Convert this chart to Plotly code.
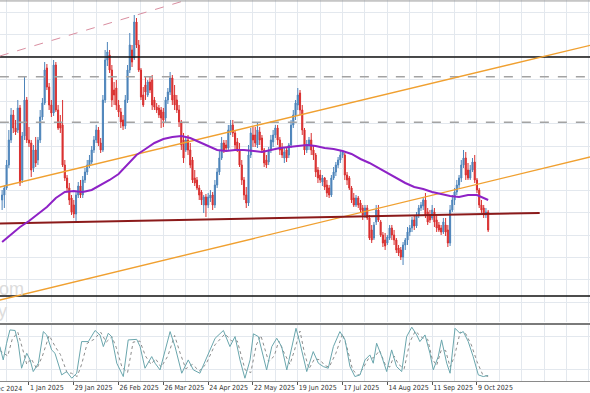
import plotly.graph_objects as go

# ---------------- data (bar index 0..217 = daily bars, mid Dec 2024 .. mid Oct 2025) ----------------
bar_index = list(range(218))

open_ = [130,135,142,165,190,215,202,200,222,150,
         194,230,190,187,162,180,170,190,213,227,
         262,243,225,217,265,220,208,205,165,152,
         142,132,125,116,135,144,135,150,158,165,
         168,180,190,200,187,180,230,270,275,260,
         240,242,225,218,210,204,230,260,280,272,
         308,285,260,235,245,235,248,250,230,223,
         222,220,218,212,230,238,252,235,230,220,
         208,190,180,190,180,170,152,150,142,138,
         125,133,125,132,135,125,145,158,172,187,
         185,182,198,205,197,188,180,165,150,135,
         127,175,195,195,185,198,192,180,170,168,
         180,188,195,202,190,182,172,180,175,185,
         205,215,225,237,220,200,180,185,190,180,
         175,160,155,148,152,145,142,135,152,158,
         165,170,175,175,155,152,142,132,125,132,
         127,122,115,122,112,100,92,108,120,108,
         95,90,87,92,102,95,90,82,80,73,
         85,90,98,102,110,104,115,122,124,130,
         118,115,112,118,110,105,102,98,105,100,
         87,120,130,138,145,152,165,172,160,152,
         160,168,150,140,125,122,115,118]

high = [140,145,170,200,222,220,210,230,225,198,
        253,233,203,190,185,193,193,220,232,268,
        266,247,230,270,268,225,215,230,170,155,
        147,135,130,138,148,150,154,162,170,175,
        184,194,205,203,192,235,280,288,280,265,
        248,250,230,222,215,235,265,297,285,315,
        312,290,262,243,253,250,253,255,233,227,
        225,223,222,233,242,258,255,245,235,225,
        210,197,193,195,187,173,160,153,145,140,
        135,136,137,140,138,150,162,180,193,190,
        190,205,210,210,200,192,187,170,153,143,
        185,202,203,203,207,203,195,182,175,183,
        195,200,205,205,193,187,183,183,187,210,
        220,230,242,240,225,202,190,193,197,185,
        177,163,160,155,153,150,145,155,163,168,
        173,180,180,177,158,154,144,137,135,134,
        130,125,125,125,115,105,108,125,125,110,
        98,97,95,105,105,100,92,85,83,88,
        92,103,105,113,115,118,125,128,132,137,
        122,120,125,122,115,108,105,112,112,105,
        125,135,142,150,155,170,180,178,167,165,
        172,175,152,142,130,125,122,120]

low = [120,122,140,162,187,197,195,197,144,147,
       190,187,183,153,158,163,165,187,210,225,
       240,220,213,214,218,200,197,163,149,139,
       125,115,112,108,132,132,132,147,155,162,
       166,177,187,184,177,178,227,264,257,223,
       225,220,213,202,200,201,227,257,263,270,
       282,258,230,223,230,233,237,220,220,217,
       212,202,203,208,226,235,225,220,217,203,
       180,167,178,175,162,147,144,140,130,125,
       117,113,122,128,120,122,142,155,170,177,
       180,180,195,193,180,178,163,145,130,122,
       124,172,183,183,182,185,177,163,162,165,
       177,183,192,185,175,172,167,168,172,182,
       202,210,220,215,195,175,177,180,175,170,
       153,147,147,144,140,133,132,133,150,154,
       162,167,172,150,145,140,127,123,123,122,
       117,110,112,110,90,87,90,105,108,93,
       83,80,85,90,90,85,77,74,70,65,
       80,85,94,98,100,102,112,119,120,112,
       105,107,110,103,98,98,95,96,94,83,
       84,118,125,135,142,148,162,150,150,150,
       158,147,137,122,117,112,112,98]

close = [135,142,165,190,215,202,198,222,147,194,
         230,190,187,160,180,167,190,213,227,260,
         243,225,217,265,220,202,202,165,152,142,
         130,118,116,135,144,135,150,158,165,170,
         180,190,200,187,180,230,270,278,260,230,
         235,225,218,208,204,230,260,285,268,308,
         285,260,233,225,238,248,240,225,223,220,
         215,212,210,230,238,252,230,225,220,208,
         185,172,190,180,165,150,147,142,135,130,
         133,125,133,135,125,145,158,172,187,180,
         182,200,205,197,185,180,165,150,135,127,
         175,197,190,187,200,190,180,167,165,180,
         190,195,202,190,180,175,178,172,185,205,
         215,227,235,220,200,180,185,190,180,175,
         158,152,150,152,143,137,135,152,158,165,
         170,175,178,155,150,142,130,125,132,125,
         120,115,122,112,92,90,105,120,110,95,
         87,84,93,102,95,90,80,77,73,85,
         90,98,102,110,104,115,122,125,130,115,
         108,110,120,108,102,100,98,108,98,87,
         120,130,138,145,152,165,172,155,152,160,
         168,150,140,125,120,115,118,100]

# moving average (read at sampled bars)
ma_x = [0,4,8,12,16,20,24,28,32,36,40,44,48,52,56,60,64,68,72,76,80,84,88,92,96,100,
        104,108,112,116,120,124,128,132,136,140,144,148,152,156,160,164,168,172,176,180,
        184,188,192,196,200,204,208,212,215,217]
ma_y = [88,96,103,109,116,123,132,138,139,138,140,145,150,156,165,175,181,187,191,193,194,192,188,184,180,179,
        180,180,179,178,180,182,183,184,185,184,182,181,179,176,171,167,162,157,152,147,
        143,141,138,136,134,133,135,135,132,130]

# horizontal levels
level_black = [273, 34]
level_dashed = [253.3, 207.7]

# trend lines: (bar index endpoints, price endpoints)
channel_upper_x, channel_upper_y = [-1, 263], [143.0, 284.9]
channel_lower_x, channel_lower_y = [-1, 263], [30.0, 173.3]
support_x, support_y = [-1, 240], [106.5, 117.0]
pink_x, pink_y = [-1, 100], [274.0, 341.8]

# stochastic oscillator
k_x = [-1,0.5,2,3.5,5.8,7.2,8.7,11,12.5,13.9,16.2,18.4,19.9,22.1,23.6,26.6,28.8,31.1,33.3,35.5,
       38.5,41.5,43.7,45.2,47.4,48.9,51.2,54.1,56.3,60.1,61.6,63.8,66.8,68.3,70.5,72.7,75,77.2,80.2,
       83.1,85.4,88.3,92.1,95.1,98.8,101.7,104,106.2,108.4,110.7,112.2,114.4,118.1,120.4,122.6,124.8,
       127.1,129.3,131.2,133,136,138.9,141.2,143.4,145.6,147.9,150.8,153.1,155.3,157.5,159.8,162,
       164.2,165.7,167.2,169.5,171.7,173.9,176.1,178.4,180.6,182.9,185.1,186.5,188.8,191,192.5,
       194.7,196.2,198.5,200,202.2,204.4,205.9,208.1,210.3,212.6,214.8,217]
k_v = [62,38,68,92,91,68,23,50,38,17,32,89,83,56,50,11,17,5,14,71,
       71,91,83,62,86,80,32,8,74,75,62,23,44,32,20,56,89,62,14,
       38,20,14,50,77,91,62,80,38,5,38,85,80,20,62,77,62,
       20,62,95,68,17,53,32,26,23,62,89,74,26,8,11,38,
       47,32,68,44,17,56,26,17,80,97,83,71,83,50,20,
       44,74,32,14,95,86,89,71,44,11,8,10]
d_x = [-1,2.5,4.5,7,9,11,13,15.5,18,21,24,26,29,31,33.5,35.5,38,41,44,46.5,49,51,53.5,56,58.5,
       61.5,64,66.5,68.5,71,74,77,79.5,82,85,88,91,95,99.5,102.5,105,108.5,111,113.5,115.5,
       119,121.5,123.5,126,128.5,130.5,133,135,137,139.5,142,144,146,149,152,154,156.5,159,161,
       163.5,166,168.5,171,173,175,177,179.5,182,184.5,187.5,190,192,194,196,198,200,202,204.5,
       207,209.5,212,214.5,217]
d_v = [55,45,75,88,60,30,40,22,45,82,60,48,15,14,8,30,68,75,88,70,80,60,25,15,70,
       72,45,30,40,25,45,82,50,22,30,18,30,65,85,72,72,20,15,65,82,
       35,45,72,50,30,55,90,50,22,40,38,28,25,50,85,60,20,10,22,
       40,42,55,30,25,45,30,22,70,90,78,75,40,28,55,55,25,45,88,
       85,65,35,12,8]

# axis labels
label_pos = [12,32,52,72,92,112,132,152,172,192,212]
label_text = ["1 Jan 2025","29 Jan 2025","26 Feb 2025","26 Mar 2025","24 Apr 2025","22 May 2025",
              "19 Jun 2025","17 Jul 2025","14 Aug 2025","11 Sep 2025","9 Oct 2025"]
prev_label = "4 Dec 2024"
grid_pos = list(range(-8, 263, 10))

# ---------------- figure ----------------
GRID = "#e3e8ee"
XR = [-0.94, 262.46]
FONT = "Liberation Sans Narrow, DejaVu Sans Condensed, Liberation Sans, Arial"

fig = go.Figure()

def line(x, y, color, width, dash="solid", xa="x", ya="y"):
    fig.add_trace(go.Scatter(x=x, y=y, mode="lines", line=dict(color=color, width=width, dash=dash),
                             xaxis=xa, yaxis=ya, hoverinfo="skip", showlegend=False))

for lv in level_dashed:
    line([-1, 263], [lv, lv], "#a3a3a3", 1.5, "dash")
for lv in level_black:
    line([-1, 263], [lv, lv], "#111111", 1.4)

line(pink_x, pink_y, "#d98ea0", 1, "dash")

fig.add_trace(go.Candlestick(
    x=bar_index, open=open_, high=high, low=low, close=close,
    increasing=dict(line=dict(color="#4d84ba", width=1), fillcolor="#4d84ba"),
    decreasing=dict(line=dict(color="#d92f2f", width=1), fillcolor="#d92f2f"),
    whiskerwidth=0, xaxis="x", yaxis="y", showlegend=False, hoverinfo="skip"))

line(channel_upper_x, channel_upper_y, "#f0a030", 1.4)
line(channel_lower_x, channel_lower_y, "#f0a030", 1.4)
line(support_x, support_y, "#8b1a1a", 2)
line(ma_x, ma_y, "#8e22c6", 2)

# stochastic
line(d_x, d_v, "#8c8c8c", 1, "dot", "x2", "y2")
line(k_x, k_v, "#6aa6ad", 1, "solid", "x2", "y2")

fig.update_layout(
    width=590, height=393,
    margin=dict(l=0, r=0, t=0, b=12, autoexpand=False),
    paper_bgcolor="white", plot_bgcolor="white",
    showlegend=False,
    font=dict(family=FONT, size=7, color="#333333"),
    xaxis=dict(domain=[0, 1], anchor="y", range=XR, showticklabels=False, automargin=False,
               tickvals=grid_pos, ticks="", showgrid=True, gridcolor=GRID, gridwidth=1,
               zeroline=False, showline=False, rangeslider=dict(visible=False)),
    yaxis=dict(domain=[0.1549, 1], range=[8, 330], tickmode="linear", tick0=27.8, dtick=22.3,
               showticklabels=False, showgrid=True, gridcolor=GRID, zeroline=False, automargin=False),
    xaxis2=dict(domain=[0, 1], anchor="y2", range=XR, automargin=False,
                tickvals=label_pos, ticktext=label_text, ticklabelposition="outside right",
                tickangle=0, ticks="outside", ticklen=3, tickcolor="#555555",
                tickfont=dict(family=FONT, size=7, color="#333333"),
                showgrid=True, gridcolor=GRID,
                minor=dict(tickvals=grid_pos, showgrid=True, gridcolor=GRID, ticks=""),
                showline=True, linecolor="#8a8a8a", linewidth=1, zeroline=False),
    yaxis2=dict(domain=[0, 0.1457], range=[0, 100], tickvals=[20, 80], showticklabels=False,
                showgrid=True, gridcolor=GRID, zeroline=False, automargin=False),
)

# frame lines: top border and panel separator
fig.add_shape(type="line", xref="paper", yref="paper", x0=0, x1=1, y0=0.9975, y1=0.9975,
              line=dict(color="#9a9a9a", width=1))
fig.add_shape(type="line", xref="paper", yref="paper", x0=0, x1=1, y0=0.1496, y1=0.1496,
              line=dict(color="#7a7a7a", width=2))

# date label of the previous period (partly outside)
fig.add_annotation(text=prev_label, xref="paper", yref="paper", x=-16/590, y=-0.021,
                   xanchor="left", yanchor="middle", showarrow=False,
                   font=dict(family=FONT, size=7, color="#333333"))

# faint watermark remnants
fig.add_annotation(text="om", xref="paper", yref="paper", x=-3/590, y=(381-289)/381,
                   xanchor="left", yanchor="middle", showarrow=False,
                   font=dict(family="Liberation Sans, Arial", size=18, color="#dcdcdc"))
fig.add_annotation(text="y", xref="paper", yref="paper", x=-4/590, y=(381-311)/381,
                   xanchor="left", yanchor="middle", showarrow=False,
                   font=dict(family="Liberation Sans, Arial", size=18, color="#dcdcdc"))

fig.write_html("out.html", config={"displayModeBar": False},
               post_script="document.body.style.margin='0px';document.body.style.padding='0px';"
                           "document.body.style.overflow='hidden';")
